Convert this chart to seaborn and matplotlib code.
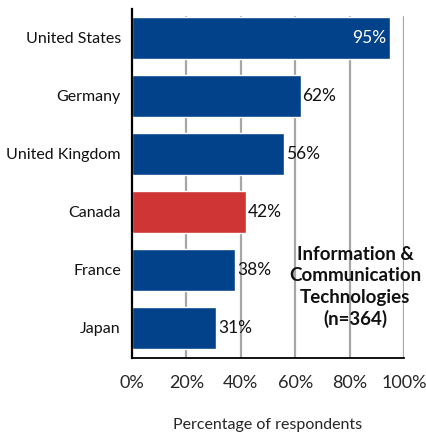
import matplotlib
matplotlib.use("Agg")
import matplotlib.pyplot as plt
import seaborn as sns
import pandas as pd

countries = ["United States", "Germany", "United Kingdom", "Canada", "France", "Japan"]
values = [95, 62, 56, 42, 38, 31]
bar_colors = ["#02428A", "#02428A", "#02428A", "#D03536", "#02428A", "#02428A"]
xticks = [0, 20, 40, 60, 80, 100]
xtick_labels = ["0%", "20%", "40%", "60%", "80%", "100%"]
note = "Information &\nCommunication\nTechnologies\n(n=364)"
xlabel = "Percentage of respondents"

sns.set_style("white")
plt.rcParams["font.family"] = ["Lato", "DejaVu Sans"]

df = pd.DataFrame({"country": countries, "value": values})

fig = plt.figure(figsize=(4.26, 4.32), dpi=100)
ax = fig.add_axes([132/426, 1 - 358/432, 272/426, 349/432])

# gridlines
for x in xticks[1:]:
    ax.plot([x, x], [5.52, -0.36], color="#A6A6A6", lw=1.6, zorder=0)

sns.barplot(data=df, x="value", y="country", hue="country", palette=bar_colors,
            legend=False, orient="h", width=0.72, ax=ax, zorder=2, saturation=1)

ax.set_xlim(0, 100)
ax.set_ylim(5.52, -0.5)
ax.set_xticks(xticks)
ax.set_xticklabels(xtick_labels, fontsize=13)
ax.tick_params(axis="x", direction="out", length=6, width=1.3, color="black", pad=6)
ax.tick_params(axis="y", length=0, pad=8, labelsize=11.5)
for lab in ax.get_yticklabels():
    lab.set_color("#111111")
ax.set_ylabel("")
ax.set_xlabel(xlabel, fontsize=11.5, labelpad=20)

for side in ["top", "right"]:
    ax.spines[side].set_visible(False)
ax.spines["left"].set_color("black")
ax.spines["left"].set_linewidth(1.6)
ax.spines["bottom"].set_color("black")
ax.spines["bottom"].set_linewidth(1.3)

for i, v in enumerate(values):
    if v >= 90:
        ax.text(v - 1.5, i, f"{v}%", color="white", ha="right", va="center", fontsize=12.5, zorder=3)
    else:
        ax.text(v + 0.6, i, f"{v}%", color="#111111", ha="left", va="center", fontsize=12.5, zorder=3)

ax.text(82, 4.3, note, ha="center", va="center", fontsize=13.5, fontweight="bold",
        linespacing=1.3, color="#111111", zorder=3)

fig.savefig("out.png", dpi=100)
